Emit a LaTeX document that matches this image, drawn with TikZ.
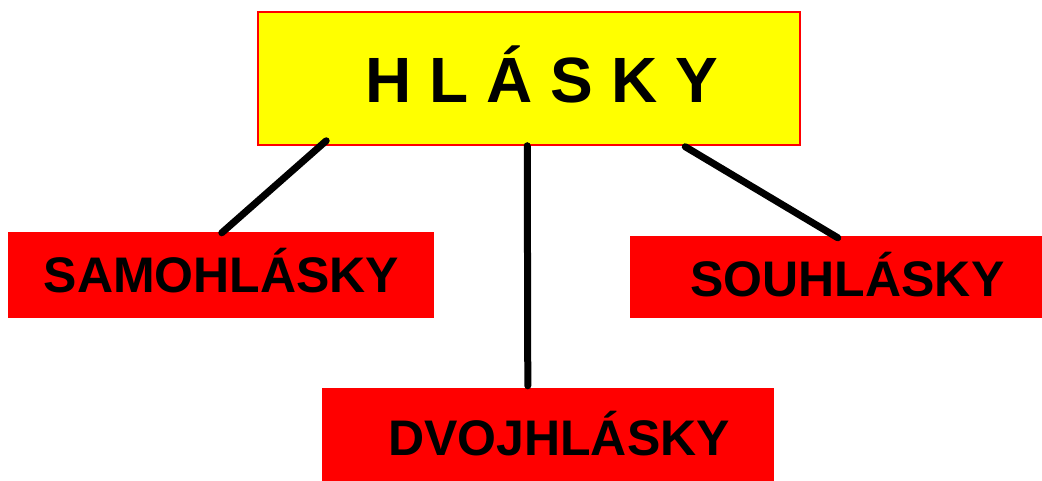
\documentclass[tikz,border=0pt]{standalone}
\usepackage{fontspec}
\setmainfont{Liberation Sans}
\usetikzlibrary{calc}
\definecolor{boxred}{HTML}{FF0000}
\definecolor{boxyellow}{HTML}{FFFF00}
\begin{document}
\begin{tikzpicture}[x=1pt,y=-1pt,
  redbox/.style={fill=boxred, draw=none, inner sep=0pt, rectangle},
  topbox/.style={fill=boxyellow, draw=boxred, line width=1.5pt, inner sep=0pt, rectangle},
  lbl/.style={anchor=base, inner sep=0pt, font=\bfseries\fontsize{50}{60}\selectfont},
  toplbl/.style={anchor=base, inner sep=0pt, font=\bfseries\fontsize{64}{76}\selectfont},
  conn/.style={draw=black, line width=7pt, line cap=round}]
\useasboundingbox (0,0) rectangle (1042,481);
\fill[white] (0,0) rectangle (1042,481);
% boxes
\node[topbox, minimum width=542pt, minimum height=133pt] (top) at (529,78.5) {};
\node[redbox, minimum width=426pt, minimum height=86pt] (samo) at (221,275) {};
\node[redbox, minimum width=412pt, minimum height=82pt] (souh) at (836,277) {};
\node[redbox, minimum width=452pt, minimum height=93pt] (dvoj) at (548,434.5) {};
% labels
\node[toplbl] (toptext) at (542,103) {H L Á S K Y};
\node[lbl] (samotext) at (221.5,292) {SAMOHLÁSKY};
\node[lbl] (souhtext) at (847.5,297) {SOUHLÁSKY};
\node[lbl] (dvojtext) at (559,455) {DVOJHLÁSKY};
% connector ends
\coordinate (c1a) at ($(top.south west)+(69,-5)$);
\coordinate (c1b) at ($(samo.north west)+(214,1)$);
\coordinate (c2a) at ($(top.south west)+(270,0)$);
\coordinate (c2b) at ($(dvoj.north west)+(206,-2)$);
\coordinate (c3a) at ($(top.south west)+(428,1)$);
\coordinate (c3b) at ($(souh.north west)+(208,2)$);
\draw[conn] (c1a) -- (c1b);
\draw[conn] (c2a) -- (c2b);
\draw[conn] (c3a) -- (c3b);
\end{tikzpicture}
\end{document}
